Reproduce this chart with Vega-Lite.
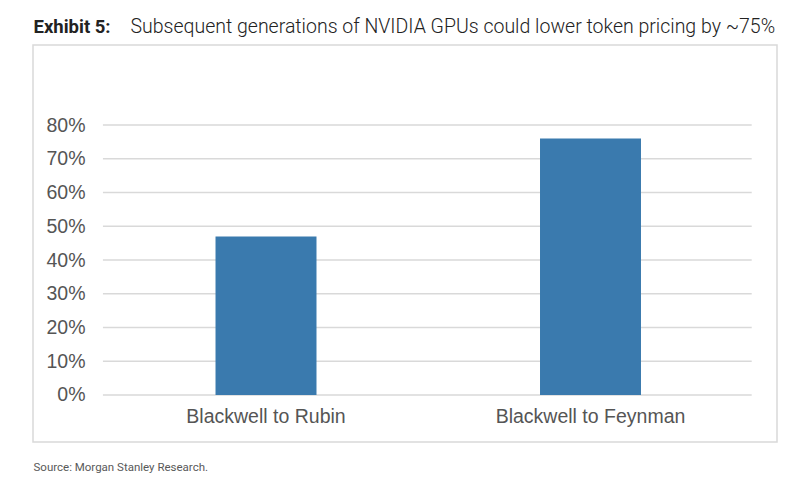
{
  "$schema": "https://vega.github.io/schema/vega-lite/v6.json",
  "autosize": "none",
  "width": 744,
  "height": 397,
  "padding": {"left": 33, "top": 45, "right": 23, "bottom": 38},
  "background": "white",
  "config": {
    "view": {"stroke": "#d9d9d9", "strokeWidth": 1.5},
    "axis": {"labelFont": "Liberation Sans", "labelColor": "#555555", "titleFont": "Roboto"}
  },
  "datasets": {
    "bars": [
      {"step": "Blackwell to Rubin", "reduction": 0.47},
      {"step": "Blackwell to Feynman", "reduction": 0.76}
    ],
    "grid": [
      {"tick": 0}, {"tick": 0.1}, {"tick": 0.2}, {"tick": 0.3}, {"tick": 0.4},
      {"tick": 0.5}, {"tick": 0.6}, {"tick": 0.7}, {"tick": 0.8}
    ]
  },
  "layer": [
    {
      "data": {"name": "grid"},
      "mark": {"type": "rule", "color": "#d9d9d9", "strokeWidth": 1.5},
      "encoding": {
        "x": {
          "datum": 0.094,
          "type": "quantitative",
          "scale": {"domain": [0, 1], "nice": false, "zero": false},
          "axis": {
            "orient": "top",
            "labels": false,
            "ticks": false,
            "domain": false,
            "grid": false,
            "title": "Subsequent generations of NVIDIA GPUs could lower token pricing by ~75%",
            "titleFont": "Roboto",
            "titleFontWeight": 300,
            "titleFontSize": 19.5,
            "titleColor": "#222222",
            "titleAlign": "left",
            "titleBaseline": "alphabetic",
            "titleLimit": 0,
            "titleX": 97,
            "titleY": -13
          }
        },
        "x2": {"datum": 0.966},
        "y": {
          "field": "tick",
          "type": "quantitative",
          "scale": {"domain": [-0.13926, 1.03704], "nice": false, "zero": false},
          "axis": {
            "values": [0, 0.1, 0.2, 0.3, 0.4, 0.5, 0.6, 0.7, 0.8],
            "format": ".0%",
            "orient": "left",
            "offset": -60,
            "grid": false,
            "domain": false,
            "ticks": false,
            "tickSize": 0,
            "labelPadding": 8,
            "labelFontSize": 19.5,
            "title": "Exhibit 5:",
            "titleFont": "Roboto",
            "titleFontWeight": "bold",
            "titleFontSize": 18.5,
            "titleColor": "#222222",
            "titleAngle": 0,
            "titleAlign": "left",
            "titleBaseline": "alphabetic",
            "titleX": -60,
            "titleY": -13
          }
        }
      }
    },
    {
      "data": {"name": "bars"},
      "mark": {"type": "bar", "color": "#3a7aae"},
      "encoding": {
        "x": {
          "field": "step",
          "type": "nominal",
          "sort": null,
          "scale": {"paddingInner": 0.6888, "paddingOuter": 0.4908, "align": 0.573},
          "axis": {
            "orient": "bottom",
            "offset": -35,
            "labelAngle": 0,
            "labelFontSize": 19.5,
            "labelPadding": 0,
            "labelLimit": 0,
            "labelOverlap": false,
            "ticks": false,
            "tickSize": 0,
            "domain": false,
            "grid": false,
            "title": "Source: Morgan Stanley Research.",
            "titleFont": "Roboto",
            "titleFontWeight": "normal",
            "titleFontSize": 11.5,
            "titleColor": "#595959",
            "titleAlign": "left",
            "titleBaseline": "alphabetic",
            "titleX": 0,
            "titleY": 63
          }
        },
        "y": {
          "field": "reduction",
          "type": "quantitative",
          "scale": {"domain": [-0.13926, 1.03704], "nice": false, "zero": false},
          "axis": {
            "values": [0, 0.1, 0.2, 0.3, 0.4, 0.5, 0.6, 0.7, 0.8],
            "format": ".0%",
            "orient": "left",
            "offset": -60,
            "grid": false,
            "domain": false,
            "ticks": false,
            "tickSize": 0,
            "labelPadding": 8,
            "labelFontSize": 19.5,
            "title": "Exhibit 5:",
            "titleFont": "Roboto",
            "titleFontWeight": "bold",
            "titleFontSize": 18.5,
            "titleColor": "#222222",
            "titleAngle": 0,
            "titleAlign": "left",
            "titleBaseline": "alphabetic",
            "titleX": -60,
            "titleY": -13
          }
        }
      }
    }
  ],
  "resolve": {"scale": {"x": "independent"}, "axis": {"x": "independent"}}
}
